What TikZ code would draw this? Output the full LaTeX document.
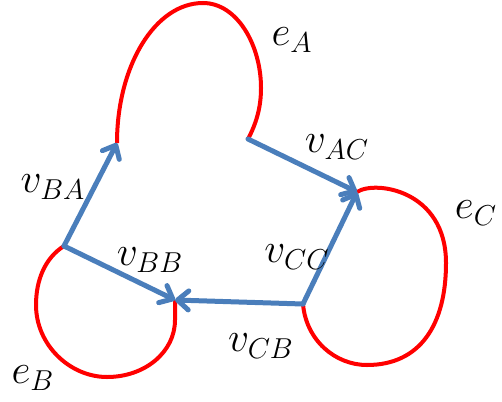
\documentclass[tikz,border=0pt]{standalone}
\usetikzlibrary{arrows.meta}
\definecolor{edgeblue}{RGB}{74,126,187}
\definecolor{loopred}{RGB}{255,0,0}
\begin{document}
\begin{tikzpicture}[x=0.5pt,y=-0.5pt,
  loopline/.style={draw=loopred,line width=2pt},
  flow/.style={draw=edgeblue,line width=2.5pt,line cap=round,
    -{Straight Barb[length=5.5pt,width=9.5pt,line cap=round,line join=round]}},
  lab/.style={inner sep=0pt,font=\fontsize{20}{24}\selectfont}]
\useasboundingbox (0,0) rectangle (502,401);
% end points of the loops
\coordinate (A1) at (117,143);
\coordinate (A2) at (248,139);
\coordinate (B1) at (64,246);
\coordinate (B2) at (175,300);
\coordinate (C1) at (357,192);
\coordinate (C2) at (303,304);
% loops
\draw[loopline] (A1) .. controls (117,66) and (155,3) .. (203,3)
  .. controls (237,3) and (261,45) .. (261,88)
  .. controls (261,108) and (256,124) .. (A2);
\draw[loopline] (C1) .. controls (375,180) and (446,190) .. (446,263)
  .. controls (446,325) and (420,365) .. (367,365)
  .. controls (335,365) and (306,340) .. (C2);
\draw[loopline] (B1) .. controls (45,258) and (36,280) .. (36,305)
  .. controls (36,345) and (70,377) .. (107,377)
  .. controls (145,377) and (175,352) .. (175,320) -- (B2);
% connectors
\draw[flow] (B1) -- (A1);
\draw[flow] (A2) -- (C1);
\draw[flow] (B1) -- (B2);
\draw[flow] (C2) -- (C1);
\draw[flow] (C2) -- (B2);
% labels
\node[lab] (eA) at (292,40) {$e_A$};
\node[lab] (vAC) at (337,147) {$v_{AC}$};
\node[lab] (vBA) at (53,187) {$v_{BA}$};
\node[lab] (eC) at (476,213) {$e_C$};
\node[lab] (vBB) at (150,260) {$v_{BB}$};
\node[lab] (vCC) at (297,257) {$v_{CC}$};
\node[lab] (vCB) at (261,346) {$v_{CB}$};
\node[lab] (eB) at (33,378) {$e_B$};
\end{tikzpicture}
\end{document}
